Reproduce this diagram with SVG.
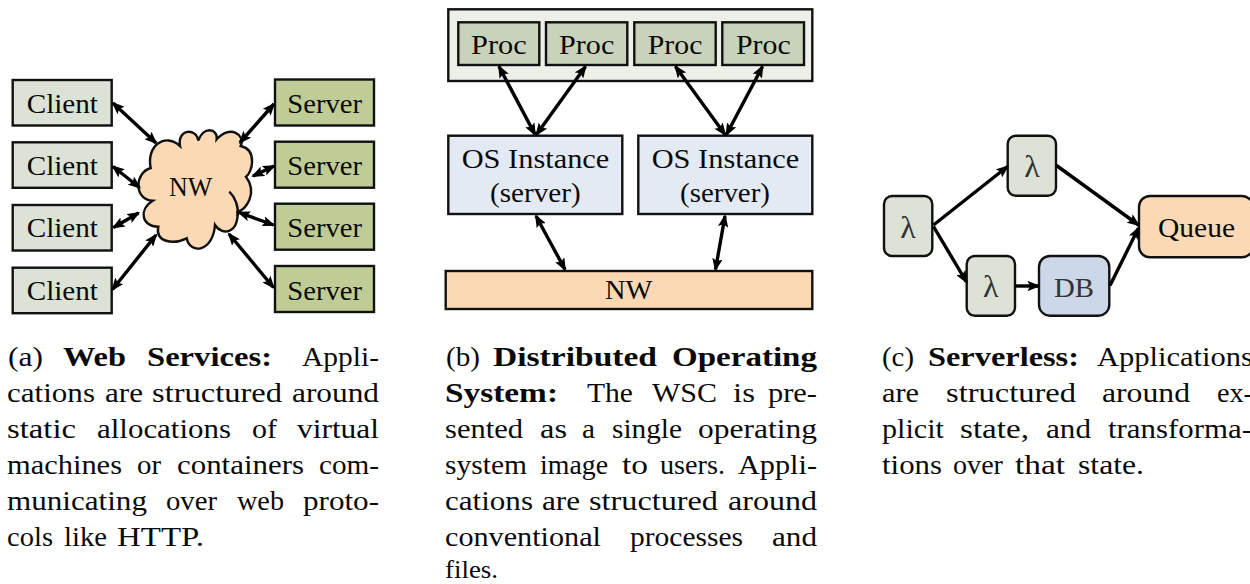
<svg xmlns="http://www.w3.org/2000/svg" width="1250" height="584" viewBox="0 0 1250 584">
<style>
text{font-family:"Liberation Serif","Times New Roman",serif;font-size:27.500px;fill:#0a0a0a}
.b{font-weight:bold}
.n{stroke:#111;stroke-width:2.400}
.client{fill:#dce2d5}.server{fill:#c0cc96}.proc{fill:#c9d3bb}.wrap{fill:#edf0e9}.os{fill:#e3eaf4}.net{fill:#fbd9b5}.db{fill:#ccd7e8}.lam{fill:#dce2d5}
.a{fill:none;stroke:#000;stroke-width:3.400;marker-end:url(#h)}
.d{fill:none;stroke:#000;stroke-width:3.400;marker-start:url(#h);marker-end:url(#h)}
.dim{fill:#333}
.lt{font-size:32px}
</style>
<defs>
<marker id="h" viewBox="0 0 10 8" refX="8.500" refY="4" markerUnits="userSpaceOnUse" markerWidth="13" markerHeight="10.400" orient="auto-start-reverse">
<path d="M0,0 L10,4 L0,8 L2,4 Z" fill="#000"/>
</marker>
</defs>

<g id="client-1"><rect class="n client" x="12.700" y="80" width="99" height="45.500"/><text x="26.700" y="112.700" textLength="71.300" lengthAdjust="spacingAndGlyphs">Client</text></g>
<g id="client-2"><rect class="n client" x="12.700" y="142.300" width="99" height="45.500"/><text x="26.700" y="175" textLength="71.300" lengthAdjust="spacingAndGlyphs">Client</text></g>
<g id="client-3"><rect class="n client" x="12.700" y="205" width="99" height="45.500"/><text x="26.700" y="237.300" textLength="71.300" lengthAdjust="spacingAndGlyphs">Client</text></g>
<g id="client-4"><rect class="n client" x="12.700" y="267.700" width="99" height="45.500"/><text x="26.700" y="299.700" textLength="71.300" lengthAdjust="spacingAndGlyphs">Client</text></g>
<g id="server-1"><rect class="n server" x="275" y="79.500" width="99" height="46"/><text x="287.300" y="112.700" textLength="74.700" lengthAdjust="spacingAndGlyphs">Server</text></g>
<g id="server-2"><rect class="n server" x="275" y="141.700" width="99" height="46"/><text x="287.300" y="175" textLength="74.700" lengthAdjust="spacingAndGlyphs">Server</text></g>
<g id="server-3"><rect class="n server" x="275" y="203.700" width="99" height="46"/><text x="287.300" y="237.300" textLength="74.700" lengthAdjust="spacingAndGlyphs">Server</text></g>
<g id="server-4"><rect class="n server" x="275" y="266" width="99" height="46"/><text x="287.300" y="299.700" textLength="74.700" lengthAdjust="spacingAndGlyphs">Server</text></g>

<g id="cloud">
<path class="n net" d="M150.700,168 C146,146 165,132 180,146 C177,128 197,128 198.300,140.700 C203,126 218,128 216.700,139.300 C230,124 246,135 240.700,146 C258,150 252,173 246,176.700 C258,193 246,210 237.700,211.700 C238,234 222,236 215,225 C213,252 190,255 186.700,238.300 C173,245 155,242 158.300,226.700 C142,227 138,210 152.700,200.700 C134,200 134,173 150.700,168 Z"/>
<path d="M229.300,191.700 C235,197 239,207 237.500,216" fill="none" stroke="#111" stroke-width="2.400"/>
<text x="169" y="196" textLength="43.300" lengthAdjust="spacingAndGlyphs">NW</text>
</g>

<g id="wsc"><rect class="n wrap" x="448.300" y="9.300" width="364" height="71.700"/></g>
<g id="proc-1"><rect class="n proc" x="458.300" y="22.300" width="81" height="42.700"/><text x="471" y="54" textLength="55.700" lengthAdjust="spacingAndGlyphs">Proc</text></g>
<g id="proc-2"><rect class="n proc" x="546" y="22.300" width="81.300" height="42.700"/><text x="559" y="54" textLength="55.300" lengthAdjust="spacingAndGlyphs">Proc</text></g>
<g id="proc-3"><rect class="n proc" x="634.300" y="22.300" width="81.400" height="42.700"/><text x="647.700" y="54" textLength="54.700" lengthAdjust="spacingAndGlyphs">Proc</text></g>
<g id="proc-4"><rect class="n proc" x="722.300" y="22.300" width="81.700" height="42.700"/><text x="736" y="54" textLength="54.700" lengthAdjust="spacingAndGlyphs">Proc</text></g>
<g id="os-1"><rect class="n os" x="448.300" y="135.700" width="174" height="78.300"/><text x="461.700" y="168.300" textLength="147.600" lengthAdjust="spacingAndGlyphs">OS Instance</text><text x="490" y="202.300" textLength="90.700" lengthAdjust="spacingAndGlyphs">(server)</text></g>
<g id="os-2"><rect class="n os" x="638.300" y="135.700" width="174" height="78.300"/><text x="651.700" y="168.300" textLength="147.600" lengthAdjust="spacingAndGlyphs">OS Instance</text><text x="680" y="202.300" textLength="90" lengthAdjust="spacingAndGlyphs">(server)</text></g>
<g id="nw-bar"><rect class="n net" x="445.700" y="271" width="366.600" height="38"/><text x="605" y="299" textLength="47.300" lengthAdjust="spacingAndGlyphs">NW</text></g>

<g id="lambda-1"><rect class="n lam" x="884" y="196" width="48.300" height="60" rx="8"/><text class="dim lt" x="908" y="238" text-anchor="middle">λ</text></g>
<g id="lambda-2"><rect class="n lam" x="1007.700" y="135.700" width="48.300" height="60" rx="8"/><text class="dim lt" x="1032" y="177.300" text-anchor="middle">λ</text></g>
<g id="lambda-3"><rect class="n lam" x="966.700" y="256" width="48.300" height="59.700" rx="8"/><text class="dim lt" x="990.700" y="297" text-anchor="middle">λ</text></g>
<g id="db"><rect class="n db" x="1039" y="256" width="70.300" height="59.700" rx="11"/><text class="dim" x="1054" y="296.700" textLength="40" lengthAdjust="spacingAndGlyphs">DB</text></g>
<g id="queue"><rect class="n net" x="1139" y="196" width="114" height="61.300" rx="11"/><text x="1158" y="236.700" textLength="77" lengthAdjust="spacingAndGlyphs">Queue</text></g>

<g id="connectors">
<line class="d" x1="113" y1="103" x2="156" y2="143"/>
<line class="d" x1="113" y1="166.500" x2="139.500" y2="187.500"/>
<line class="d" x1="113.500" y1="227.500" x2="138.500" y2="213"/>
<line class="d" x1="112.500" y1="289.500" x2="156" y2="235"/>
<line class="d" x1="274" y1="104" x2="240" y2="142.500"/>
<line class="d" x1="274" y1="166" x2="253" y2="176"/>
<line class="d" x1="273.500" y1="225" x2="239" y2="212.500"/>
<line class="d" x1="273.500" y1="287.500" x2="229" y2="234"/>
<line class="d" x1="499" y1="66.500" x2="535" y2="134.500"/>
<line class="d" x1="585.500" y1="66.500" x2="536.500" y2="134.500"/>
<line class="d" x1="675.500" y1="66.500" x2="725" y2="134.500"/>
<line class="d" x1="762.500" y1="66.500" x2="726.500" y2="134.500"/>
<line class="d" x1="536" y1="216" x2="565" y2="269.500"/>
<line class="d" x1="725" y1="216" x2="715.500" y2="269.500"/>
<line class="a" x1="933.500" y1="225" x2="1007.500" y2="166.500"/>
<line class="a" x1="933.500" y1="226.500" x2="966.500" y2="282"/>
<line class="a" x1="1015.500" y1="286" x2="1038.500" y2="286"/>
<line class="a" x1="1056.500" y1="165.500" x2="1138.500" y2="225"/>
<line class="a" x1="1110" y1="285.500" x2="1138.500" y2="228"/>
</g>

<g id="caption-a">
<text y="366"><tspan x="8" textLength="35" lengthAdjust="spacingAndGlyphs">(a)</tspan><tspan class="b" x="63" textLength="63" lengthAdjust="spacingAndGlyphs">Web</tspan><tspan class="b" x="147" textLength="125" lengthAdjust="spacingAndGlyphs">Services:</tspan><tspan x="302" textLength="77" lengthAdjust="spacingAndGlyphs">Appli-</tspan></text>
<text y="402"><tspan x="7" textLength="88" lengthAdjust="spacingAndGlyphs">cations</tspan><tspan x="105" textLength="38" lengthAdjust="spacingAndGlyphs">are</tspan><tspan x="152" textLength="130" lengthAdjust="spacingAndGlyphs">structured</tspan><tspan x="292" textLength="87" lengthAdjust="spacingAndGlyphs">around</tspan></text>
<text y="438"><tspan x="7" textLength="69" lengthAdjust="spacingAndGlyphs">static</tspan><tspan x="97" textLength="134" lengthAdjust="spacingAndGlyphs">allocations</tspan><tspan x="252" textLength="25" lengthAdjust="spacingAndGlyphs">of</tspan><tspan x="297" textLength="82" lengthAdjust="spacingAndGlyphs">virtual</tspan></text>
<text y="474"><tspan x="7" textLength="115" lengthAdjust="spacingAndGlyphs">machines</tspan><tspan x="137" textLength="24" lengthAdjust="spacingAndGlyphs">or</tspan><tspan x="177" textLength="127" lengthAdjust="spacingAndGlyphs">containers</tspan><tspan x="319" textLength="60" lengthAdjust="spacingAndGlyphs">com-</tspan></text>
<text y="510"><tspan x="7" textLength="140" lengthAdjust="spacingAndGlyphs">municating</tspan><tspan x="166" textLength="51" lengthAdjust="spacingAndGlyphs">over</tspan><tspan x="237" textLength="47" lengthAdjust="spacingAndGlyphs">web</tspan><tspan x="303" textLength="76" lengthAdjust="spacingAndGlyphs">proto-</tspan></text>
<text y="546"><tspan x="7" textLength="46" lengthAdjust="spacingAndGlyphs">cols</tspan><tspan x="64" textLength="43" lengthAdjust="spacingAndGlyphs">like</tspan><tspan x="117" textLength="87" lengthAdjust="spacingAndGlyphs">HTTP.</tspan></text>
</g>

<g id="caption-b">
<text y="366"><tspan x="446" textLength="34" lengthAdjust="spacingAndGlyphs">(b)</tspan><tspan class="b" x="493" textLength="164" lengthAdjust="spacingAndGlyphs">Distributed</tspan><tspan class="b" x="672" textLength="145" lengthAdjust="spacingAndGlyphs">Operating</tspan></text>
<text y="402"><tspan class="b" x="445" textLength="113" lengthAdjust="spacingAndGlyphs">System:</tspan><tspan x="587" textLength="46" lengthAdjust="spacingAndGlyphs">The</tspan><tspan x="652" textLength="65" lengthAdjust="spacingAndGlyphs">WSC</tspan><tspan x="733" textLength="22" lengthAdjust="spacingAndGlyphs">is</tspan><tspan x="768" textLength="49" lengthAdjust="spacingAndGlyphs">pre-</tspan></text>
<text y="438"><tspan x="445" textLength="78" lengthAdjust="spacingAndGlyphs">sented</tspan><tspan x="540" textLength="27" lengthAdjust="spacingAndGlyphs">as</tspan><tspan x="582" textLength="13" lengthAdjust="spacingAndGlyphs">a</tspan><tspan x="612" textLength="70" lengthAdjust="spacingAndGlyphs">single</tspan><tspan x="698" textLength="119" lengthAdjust="spacingAndGlyphs">operating</tspan></text>
<text y="474"><tspan x="445" textLength="82" lengthAdjust="spacingAndGlyphs">system</tspan><tspan x="540" textLength="68" lengthAdjust="spacingAndGlyphs">image</tspan><tspan x="622" textLength="26" lengthAdjust="spacingAndGlyphs">to</tspan><tspan x="660" textLength="65" lengthAdjust="spacingAndGlyphs">users.</tspan><tspan x="738" textLength="79" lengthAdjust="spacingAndGlyphs">Appli-</tspan></text>
<text y="510"><tspan x="445" textLength="88" lengthAdjust="spacingAndGlyphs">cations</tspan><tspan x="542" textLength="38" lengthAdjust="spacingAndGlyphs">are</tspan><tspan x="589" textLength="129" lengthAdjust="spacingAndGlyphs">structured</tspan><tspan x="728" textLength="89" lengthAdjust="spacingAndGlyphs">around</tspan></text>
<text y="546"><tspan x="445" textLength="156" lengthAdjust="spacingAndGlyphs">conventional</tspan><tspan x="630" textLength="113" lengthAdjust="spacingAndGlyphs">processes</tspan><tspan x="772" textLength="45" lengthAdjust="spacingAndGlyphs">and</tspan></text>
<text y="578.300" style="font-size:26px"><tspan x="445" textLength="53" lengthAdjust="spacingAndGlyphs">files.</tspan></text>
</g>

<g id="caption-c">
<text y="366"><tspan x="882" textLength="32" lengthAdjust="spacingAndGlyphs">(c)</tspan><tspan class="b" x="928" textLength="151" lengthAdjust="spacingAndGlyphs">Serverless:</tspan><tspan x="1097" textLength="156" lengthAdjust="spacingAndGlyphs">Applications</tspan></text>
<text y="402"><tspan x="882" textLength="37" lengthAdjust="spacingAndGlyphs">are</tspan><tspan x="946" textLength="130" lengthAdjust="spacingAndGlyphs">structured</tspan><tspan x="1102" textLength="88" lengthAdjust="spacingAndGlyphs">around</tspan><tspan x="1217" textLength="36" lengthAdjust="spacingAndGlyphs">ex-</tspan></text>
<text y="438"><tspan x="882" textLength="62" lengthAdjust="spacingAndGlyphs">plicit</tspan><tspan x="960" textLength="69" lengthAdjust="spacingAndGlyphs">state,</tspan><tspan x="1046" textLength="45" lengthAdjust="spacingAndGlyphs">and</tspan><tspan x="1108" textLength="144" lengthAdjust="spacingAndGlyphs">transforma-</tspan></text>
<text y="474"><tspan x="882" textLength="60" lengthAdjust="spacingAndGlyphs">tions</tspan><tspan x="953" textLength="50" lengthAdjust="spacingAndGlyphs">over</tspan><tspan x="1015" textLength="50" lengthAdjust="spacingAndGlyphs">that</tspan><tspan x="1078" textLength="66" lengthAdjust="spacingAndGlyphs">state.</tspan></text>
</g>
</svg>
